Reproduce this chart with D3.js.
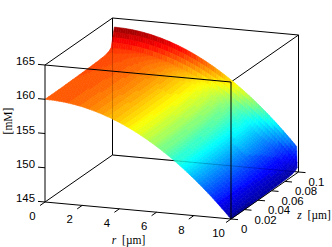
<!DOCTYPE html>
<html><head><meta charset="utf-8">
<script src="https://cdnjs.cloudflare.com/ajax/libs/d3/7.8.5/d3.min.js"></script>
<style>html,body{margin:0;padding:0;background:#fff}svg{display:block}</style></head>
<body><svg id="c" width="332" height="247"></svg>
<script>
const rGrid=[0,0.5,1,1.5,2,2.5,3,3.5,4,4.5,5,5.5,6,6.5,7,7.5,8,8.5,9,9.5,10];
const zGrid=[0,0.02,0.04,0.06,0.08,0.09,0.095,0.098,0.1];
// concentration drop along r, and level along z at r = 0
const dropAlongR=[0,0.04,0.15,0.34,0.6,0.94,1.35,1.84,2.4,3.04,3.75,4.54,5.4,6.34,7.35,8.44,9.6,10.84,12.15,13.54,15];
const levelAlongZ=[160,160,160.05,160.1,160.2,160.3,160.5,160.8,163.7];
const rimPull=[0,0,0,0,0,0,0,0,0.02];
const rTicks=[0,2,4,6,8,10];
const zTicks=[0,0.02,0.04,0.06,0.08,0.1];
const zTickLabels=["0","0.02","0.04","0.06","0.08","0.1"];
const cTicks=[145,150,155,160,165];

const svg=d3.select("#c");
const O={x:45,y:202};
const rx=d3.scaleLinear([0,10],[0,186]), ry=d3.scaleLinear([0,10],[0,17]);
const zx=d3.scaleLinear([0,0.1],[0,67.5]), zy=d3.scaleLinear([0,0.1],[0,-47]);
const cy=d3.scaleLinear([145,165],[0,-137]);
const P=(r,z,c)=>[O.x+rx(r)+zx(z),O.y+ry(r)+zy(z)+cy(c)];
const jet=t=>{t=Math.max(0,Math.min(1,t));
  const f=a=>Math.round(255*Math.max(0,Math.min(1,1.5-Math.abs(4*t-a))));
  return `rgb(${f(3)},${f(2)},${f(1)})`;};
const cNorm=d3.scaleLinear([144.6,164],[0,1]);
const color=v=>jet((Math.floor(cNorm(v)*64)+0.5)/64);

const line=(a,b,op)=>svg.append("path").attr("d",d3.line()([a,b])).attr("fill","none")
  .attr("stroke","#000").attr("stroke-width",1).attr("stroke-opacity",op||1);

const A=(r,z)=>P(r,z,145), T=(r,z)=>P(r,z,165);
// back edges
line(A(0,0.1),A(10,0.1)); line(A(0,0.1),T(0,0.1)); line(A(10,0.1),T(10,0.1));
line(T(0,0.1),T(10,0.1)); line(T(0,0),T(0,0.1)); line(T(10,0),T(10,0.1));
line(A(0,0),A(0,0.1));

// surface
const g=svg.append("g");
const val=(i,j)=>levelAlongZ[j]-dropAlongR[i];
const N=4;
for(let j=zGrid.length-2;j>=0;j--){
 for(let a=N-1;a>=0;a--){
  for(let i=0;i<rGrid.length-1;i++){
   for(let b=0;b<N;b++){
    const u0=b/N,u1=(b+1)/N,w0=a/N,w1=(a+1)/N;
    const pt=(u,w)=>{
      const pull=rimPull[j]+(rimPull[j+1]-rimPull[j])*w;
      const r0=rGrid[i]+(rGrid[i+1]-rGrid[i])*u, z=zGrid[j]+(zGrid[j+1]-zGrid[j])*w;
      const r=5+(r0-5)*(1-pull);
      const v=(1-u)*(1-w)*val(i,j)+u*(1-w)*val(i+1,j)+(1-u)*w*val(i,j+1)+u*w*val(i+1,j+1);
      return {p:P(r,z,v),v};
    };
    const q=[pt(u0,w0),pt(u1,w0),pt(u1,w1),pt(u0,w1)];
    const col=color(d3.mean(q,d=>d.v));
    g.append("path").attr("d",d3.line()(q.map(d=>d.p))+"Z").attr("fill",col).attr("stroke",col).attr("stroke-width",0.6);
   }
  }
 }
}
// hidden edges glimpsed through the surface
line(A(0,0.1),T(0,0.1),0.18); line(A(0,0.1),A(10,0.1),0.18);

// front edges
line(A(0,0),T(0,0)); line(A(10,0),T(10,0)); line(T(0,0),T(10,0));
line(A(0,0),A(10,0)); line(A(10,0),A(10,0.1));

const sans="'Liberation Sans',Arial,sans-serif", serif="'Liberation Serif',serif";
const label=(x,y,s,anchor)=>svg.append("text").attr("x",x).attr("y",y).text(s)
  .attr("font-family",sans).attr("font-size",11.4).attr("fill","#000").attr("text-anchor",anchor||"middle");

cTicks.forEach(c=>{const p=P(0,0,c);
  line([p[0]-7,p[1]-0.6],p);
  label(p[0]-10,p[1]-0,String(c),"end");});
rTicks.forEach(r=>{const p=A(r,0);
  line([p[0]-5,p[1]+3.5],p);
  label(p[0]-12.5,p[1]+18,String(r));});
zTicks.forEach((z,i)=>{const p=A(10,z);
  line(p,[p[0]+7,p[1]+0.6]);
  label(p[0]+10,p[1]+14,zTickLabels[i],"start");});

const axisLabel=(x,y,name,rot)=>{
  const t=svg.append("text").attr("font-family",serif).attr("font-size",11.5).attr("fill","#000")
    .attr("transform",`translate(${x},${y})`+(rot?" rotate(-90)":"")).attr("text-anchor","middle");
  if(name) t.append("tspan").attr("font-style","italic").text(name+" ");
  return t;};
axisLabel(128.5,244,"r").append("tspan").attr("dx",3).text("[µm]");
axisLabel(314,219,"z").append("tspan").attr("dx",3).text("[µm]");
axisLabel(12,121,"",true).text("[mM]");
</script></body></html>
